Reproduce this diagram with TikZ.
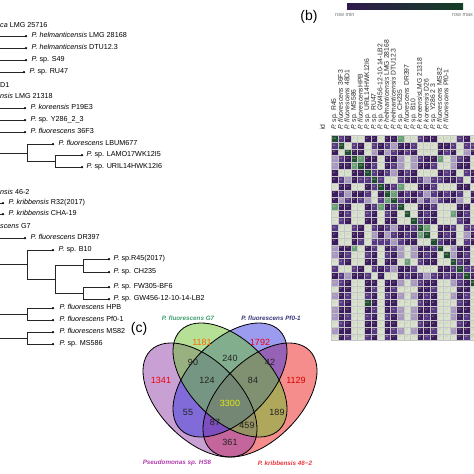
\documentclass[tikz,border=0pt]{standalone}
\usepackage{fontspec}
\setmainfont{Liberation Sans}
\usetikzlibrary{positioning}

% heatmap levels
\definecolor{hm0}{HTML}{3A1C5F}
\definecolor{hm1}{HTML}{563886}
\definecolor{hm2}{HTML}{A898C4}
\definecolor{hm3}{HTML}{D9E2CE}
\definecolor{hm4}{HTML}{68A077}
\definecolor{hm5}{HTML}{1E4F32}
\definecolor{ht0}{HTML}{D9C77A}
\definecolor{ht1}{HTML}{D9C77A}
\definecolor{ht2}{HTML}{E6D98E}
\definecolor{ht3}{HTML}{B9B48E}
\definecolor{ht4}{HTML}{E8E0A0}
\definecolor{ht5}{HTML}{E8E0A0}
\definecolor{cbL}{HTML}{2F1A4C}
\definecolor{cbM}{HTML}{EEF1EC}
\definecolor{cbR}{HTML}{143F26}
% venn
\definecolor{vP}{HTML}{9341A9}
\definecolor{vG}{HTML}{6BC12D}
\definecolor{vB}{HTML}{3838E0}
\definecolor{vR}{HTML}{EB1C1C}
\definecolor{vPl}{HTML}{B03CAB}
\definecolor{vGl}{HTML}{3E9E6E}
\definecolor{vBl}{HTML}{35357A}
\definecolor{vRl}{HTML}{E8343C}
\definecolor{vtext}{HTML}{222222}

\newcommand{\cellval}[1]{\ifcase#1 87\or 88\or 90\or 97\or 99\or 100\fi}

\begin{document}
\begin{tikzpicture}[x=1pt, y=-1pt,
  branch/.style={line width=0.6pt, black!85},
  leaf/.style={circle, fill=black, inner sep=0pt, minimum size=2.5pt},
  lab/.style={anchor=west, inner sep=0pt, text height=5.1pt, text depth=1.4pt,
    font=\fontsize{7.2}{8}\selectfont},
  collab/.style={rotate=90, anchor=west, inner sep=0pt, text height=4.9pt,
    text depth=1.2pt, font=\fontsize{6.8}{7}\selectfont, black!85},
  cell/.style={minimum width=6.6pt, minimum height=6.85pt, inner sep=0pt,
    draw=gray!45, line width=0.15pt, font=\fontsize{2.2}{2.2}\selectfont},
  bar/.style={font=\fontsize{5.5}{6}\selectfont, text=black!55, inner sep=0pt, anchor=west},
  vnum/.style={font=\fontsize{9}{9}\selectfont, text=vtext, inner sep=0pt},
  vlab/.style={font=\fontsize{6.3}{7}\selectfont\bfseries\itshape, inner sep=0pt},
  panel/.style={font=\fontsize{14}{14}\selectfont, inner sep=0pt},
  venn/.style={line width=0.8pt, black}
]
\useasboundingbox (0,0) rectangle (474,474);

% ---- (a) tree ----
\foreach \y/\x/\txt [count=\i] in {
  36/26/{\textit{P. helmanticensis} LMG 28168},
  48/26/{\textit{P. helmanticensis} DTU12.3},
  60/26/{\textit{P.} sp. S49},
  72/24/{\textit{P.} sp. RU47},
  108/25/{\textit{P. koreensis} P19E3},
  120/25/{\textit{P.} sp. Y286\_2\_3},
  132/25/{\textit{P. fluorescens} 36F3},
  203/3/{\textit{P. kribbensis} R32(2017)},
  214/3/{\textit{P. kribbensis} CHA-19},
  238/25/{\textit{P. fluorescens} DR397}}{
  \coordinate (e\i) at (0,\y);
  \node[leaf] (d\i) at (\x,\y) {};
  \node[lab, right=4pt of d\i] (t\i) {\txt};
  \draw[branch] (e\i) -- (d\i);
}

% cut labels
\node[lab] (cut1) at (0,26) {\textit{ca} LMG 25716};
\node[lab] (cut2) at (0,86) {D1};
\node[lab] (cut3) at (0,97) {\textit{nsis} LMG 21318};
\node[lab] (cut4) at (0,193) {\textit{nsis} 46-2};
\node[lab] (cut5) at (0,227) {\textit{scens} G7};

% LBUM677 group
\coordinate (s1) at (0,153);
\coordinate (j1) at (27,153);
\coordinate (j2) at (55,161);
\node[leaf] (lbum) at (53,144) {};
\node[leaf] (lamo) at (82,155) {};
\node[leaf] (uril) at (82,167) {};
\draw[branch] (s1) -- (j1) |- (lbum);
\draw[branch] (j1) |- (j2) |- (lamo);
\draw[branch] (j2) |- (uril);
\node[lab, right=4pt of lbum] {\textit{P. fluorescens} LBUM677};
\node[lab, right=3pt of lamo] {\textit{P.} sp. LAMO17WK12I5};
\node[lab, right=3pt of uril] {\textit{P.} sp. URIL14HWK12I6};

% B10 group
\coordinate (s2) at (0,264.5);
\coordinate (j3) at (27,264.5);
\coordinate (j4) at (55,279);
\coordinate (j5) at (83,265.5);
\coordinate (j6) at (83,293);
\node[leaf] (b10) at (53,250) {};
\node[leaf] (r45) at (109,259) {};
\node[leaf] (ch235) at (109,272) {};
\node[leaf] (fw305) at (109,287) {};
\node[leaf] (gw456) at (109,299) {};
\draw[branch] (s2) -- (j3) |- (b10);
\draw[branch] (j3) |- (j4) |- (j5) |- (r45);
\draw[branch] (j5) |- (ch235);
\draw[branch] (j4) |- (j6) |- (fw305);
\draw[branch] (j6) |- (gw456);
\node[lab, right=4pt of b10] {\textit{P.} sp. B10};
\node[lab, right=3pt of r45] {\textit{P.} sp.R45(2017)};
\node[lab, right=3pt of ch235] {\textit{P.} sp. CH235};
\node[lab, right=3pt of fw305] {\textit{P.} sp. FW305-BF6};
\node[lab, right=3pt of gw456] {\textit{P.} sp. GW456-12-10-14-LB2};

% HPB / MS82 pairs
\coordinate (s3) at (0,314);
\coordinate (j7) at (27,314);
\coordinate (s4) at (0,338);
\coordinate (j8) at (27,338);
\node[leaf] (hpb) at (53,308) {};
\node[leaf] (pf01) at (53,320) {};
\node[leaf] (ms82) at (53,332) {};
\node[leaf] (ms586) at (53,344) {};
\draw[branch] (s3) -- (j7) |- (hpb);
\draw[branch] (j7) |- (pf01);
\draw[branch] (s4) -- (j8) |- (ms82);
\draw[branch] (j8) |- (ms586);
\node[lab, right=5pt of hpb] {\textit{P. fluorescens} HPB};
\node[lab, right=5pt of pf01] {\textit{P. fluorescens} Pf0-1};
\node[lab, right=5pt of ms82] {\textit{P. fluorescens} MS82};
\node[lab, right=5pt of ms586] {\textit{P.} sp. MS586};

% ---- (b) heatmap ----
\node[panel] (pb) at (309,17) {(b)};
\shade[left color=cbL, middle color=cbM, right color=cbR] (347,3) rectangle (463,9.5);
\node[bar] (rmin) at (335,15) {row min};
\node[bar] (rmax) at (452,15) {row max};

\node[collab] (idlab) at (323,130) {id};
\foreach \txt [count=\k] in {
  {\textit{P.} sp. R45},
  {\textit{P. fluorescens} 36F3},
  {\textit{P. fluorescens} 48D1},
  {\textit{P.} sp. MS586},
  {\textit{P. fluorescens}HPB},
  {\textit{P.} sp. URIL14HWK12I6},
  {\textit{P.} sp. RU47},
  {\textit{P.} sp. GW456-12-10-14-LB2},
  {\textit{P. helmanticensis} LMG 28168},
  {\textit{P. helmanticensis} DTU12.3},
  {\textit{P.} sp. CH235},
  {\textit{P. fluorescens} DR397},
  {\textit{P.} sp. B10},
  {\textit{P. koreensis}LMG 21318},
  {\textit{P. koreensis} D26},
  {\textit{P.} sp. Y286 2 3},
  {\textit{P. fluorescens} MS82},
  {\textit{P. fluorescens} Pf0-1}}{
  \node[collab] (col\k) at ({334.3+(\k-1)*6.6},130) {\txt};
}

\foreach \rc [count=\r] in {1,3,3,2,2,3,4,1,4,4,1,1,1,3,3,3,2,2,1,3,4,2,1,2,1,2,2,1,2,1}{
  \foreach \cc [count=\k] in {1,3,3,2,2,3,4,1,4,4,1,1,1,3,3,3,2,2,1,3,4,2}{
    \pgfmathtruncatemacro{\v}{(\r==\k)?5:((\rc==\cc)?3:((\rc+\cc==3)?((\rc==1)?3:((mod(\k,2)==0)?3:2)):((\rc+\cc==7)?((mod(\r+\k,2)==0)?2:1):((mod(\r+\k,3)==0)?1:0))))}
    \node[cell, fill=hm\v, text=ht\v] (c\r-\k) at ({334.3+(\k-1)*6.6},{138.4+(\r-1)*6.85}) {\cellval{\v}};
  }
}
% closely related pairs
\foreach \r/\k/\v in {1/11/4, 11/1/4, 8/11/4, 11/8/4, 9/10/4, 10/9/4, 14/15/4,
  15/14/4, 4/17/4, 17/4/4, 12/19/4, 19/12/4, 25/6/5, 4/5/4, 5/4/4}{
  \node[cell, fill=hm\v, text=ht\v] (p\r-\k) at ({334.3+(\k-1)*6.6},{138.4+(\r-1)*6.85}) {\cellval{\v}};
}

% ---- (c) venn ----
\node[panel] (pc) at (139,329) {(c)};
\foreach \cx/\cy/\ang/\col in {260/400/45/vR, 200/400/-45/vP, 230/380/45/vB, 230/380/-45/vG}{
  \fill[\col, fill opacity=0.5, rotate around={\ang:(\cx,\cy)}] (\cx,\cy) ellipse [x radius=70, y radius=40];
}
\foreach \cx/\cy/\ang in {200/400/-45, 230/380/-45, 230/380/45, 260/400/45}{
  \draw[venn, rotate around={\ang:(\cx,\cy)}] (\cx,\cy) ellipse [x radius=70, y radius=40];
}

\node[vlab, text=vGl] (labG7) at (188,318) {P. fluorescens G7};
\node[vlab, text=vBl] (labPf) at (271,318) {P. fluorescens Pf0-1};
\node[vlab, text=vPl] (labHS6) at (177,463) {Pseudomonas sp. HS6};
\node[vlab, text=vRl] (labKr) at (285,463) {P. kribbensis 46−2};

\node[vnum, text=orange!80!red] (n1181) at (202,342) {1181};
\node[vnum, text=red!80!purple] (n1792) at (260,342) {1792};
\node[vnum] (n90) at (193,362) {90};
\node[vnum] (n240) at (230,358) {240};
\node[vnum] (n42) at (270,362) {42};
\node[vnum, text=red!80!purple] (n1341) at (161,380) {1341};
\node[vnum] (n124) at (207,380) {124};
\node[vnum] (n84) at (253,380) {84};
\node[vnum, text=red!85!black] (n1129) at (296,380) {1129};
\node[vnum, text=yellow!90!green] (n3300) at (230,403) {3300};
\node[vnum] (n55) at (188,412) {55};
\node[vnum] (n189) at (277,412) {189};
\node[vnum] (n87) at (215,422) {87};
\node[vnum] (n459) at (247,425) {459};
\node[vnum] (n361) at (230,442) {361};

\end{tikzpicture}
\end{document}
